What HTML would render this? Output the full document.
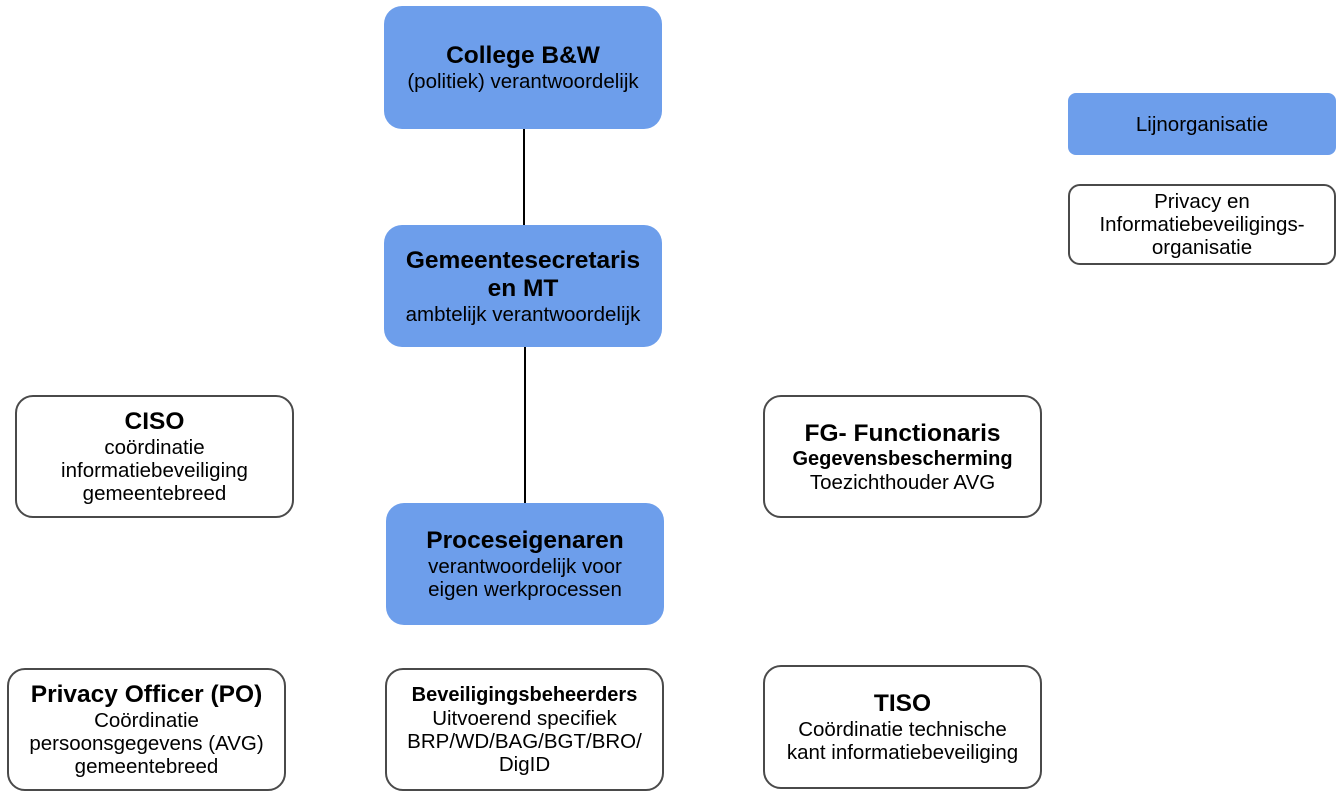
<!DOCTYPE html>
<html><head><meta charset="utf-8"><style>
body{margin:0;width:1342px;height:799px;background:#fff;position:relative;overflow:hidden;font-family:"Liberation Sans",Arial,sans-serif;color:#000}
.b{position:absolute;box-sizing:border-box;border-radius:18px;display:flex;flex-direction:column;align-items:center;justify-content:center;text-align:center;font-size:20.5px;line-height:23px}
.f{background:#6d9eeb}
.o{background:#fff;border:2px solid #4a4a4a}
.t{font-weight:bold;font-size:24.5px;line-height:28px}
.s{font-weight:bold;font-size:20px}
.l{position:absolute;width:1.5px;background:#000}
</style></head><body>
<div class="l" style="left:523px;top:129px;height:96px"></div>
<div class="l" style="left:524px;top:347px;height:156px"></div>
<div class="b f" style="left:384px;top:6px;width:278px;height:123px"><div class="t">College B&amp;W</div><div>(politiek) verantwoordelijk</div></div>
<div class="b f" style="left:384px;top:225px;width:278px;height:122px"><div class="t">Gemeentesecretaris<br>en MT</div><div>ambtelijk verantwoordelijk</div></div>
<div class="b f" style="left:386px;top:503px;width:278px;height:122px"><div class="t">Proceseigenaren</div><div>verantwoordelijk voor<br>eigen werkprocessen</div></div>
<div class="b f" style="left:1068px;top:93px;width:268px;height:62px;border-radius:8px"><div>Lijnorganisatie</div></div>
<div class="b o" style="left:1068px;top:184px;width:268px;height:81px;border-radius:12px"><div>Privacy en<br>Informatiebeveiligings-<br>organisatie</div></div>
<div class="b o" style="left:15px;top:395px;width:279px;height:123px"><div class="t">CISO</div><div>coördinatie<br>informatiebeveiliging<br>gemeentebreed</div></div>
<div class="b o" style="left:763px;top:395px;width:279px;height:123px"><div class="t">FG- Functionaris</div><div class="s">Gegevensbescherming</div><div>Toezichthouder AVG</div></div>
<div class="b o" style="left:7px;top:668px;width:279px;height:123px"><div class="t">Privacy Officer (PO)</div><div>Coördinatie<br>persoonsgegevens (AVG)<br>gemeentebreed</div></div>
<div class="b o" style="left:385px;top:668px;width:279px;height:123px"><div class="s">Beveiligingsbeheerders</div><div>Uitvoerend specifiek<br>BRP/WD/BAG/BGT/BRO/<br>DigID</div></div>
<div class="b o" style="left:763px;top:665px;width:279px;height:124px"><div class="t">TISO</div><div>Coördinatie technische<br>kant informatiebeveiliging</div></div>
</body></html>
